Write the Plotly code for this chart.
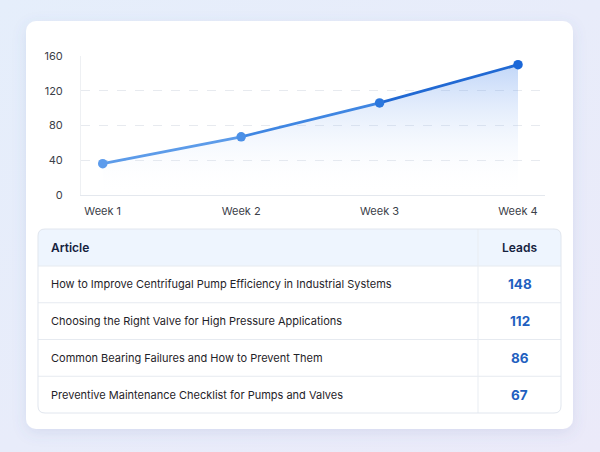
import base64
import plotly.graph_objects as go

# ---- data ----
weeks = ["Week 1", "Week 2", "Week 3", "Week 4"]
weekly_leads = [36, 67, 106, 150]
y_ticks = [0, 40, 80, 120, 160]

articles = [
    "How to Improve Centrifugal Pump Efficiency in Industrial Systems",
    "Choosing the Right Valve for High Pressure Applications",
    "Common Bearing Failures and How to Prevent Them",
    "Preventive Maintenance Checklist for Pumps and Valves",
]
article_leads = [148, 112, 86, 67]
table_headers = ["Article", "Leads"]

# ---- styling ----
W, H = 600, 452
FONT = "Inter, Roboto, 'Noto Sans', sans-serif"
seg_colors = ["#5c9be9", "#3f86e2", "#2169d3"]
marker_colors = ["#5d9cec", "#4b90e7", "#2b77dd", "#1b67d8"]


def px(x):
    return x / W


def py(y):
    return 1 - y / H


def rrect(x0, y0, x1, y1, r, tl=True, tr=True, br=True, bl=True):
    """Rounded rectangle path in paper coordinates from pixel coordinates."""
    def P(x, y):
        return f"{px(x):.5f},{py(y):.5f}"
    rt, rr_, rb, rl = (r if tl else 0), (r if tr else 0), (r if br else 0), (r if bl else 0)
    d = f"M {P(x0 + rt, y0)} L {P(x1 - rr_, y0)} "
    d += f"Q {P(x1, y0)} {P(x1, y0 + rr_)} " if rr_ else ""
    d += f"L {P(x1, y1 - rb)} "
    d += f"Q {P(x1, y1)} {P(x1 - rb, y1)} " if rb else ""
    d += f"L {P(x0 + rl, y1)} "
    d += f"Q {P(x0, y1)} {P(x0, y1 - rl)} " if rl else ""
    d += f"L {P(x0, y0 + rt)} "
    d += f"Q {P(x0, y0)} {P(x0 + rt, y0)} " if rt else ""
    return d + "Z"


bg_svg = f"""<svg xmlns='http://www.w3.org/2000/svg' width='{W}' height='{H}' viewBox='0 0 {W} {H}' preserveAspectRatio='none'>
<defs>
<linearGradient id='bg' x1='0' y1='0' x2='1' y2='1'>
<stop offset='0' stop-color='#e5eefb'/><stop offset='1' stop-color='#ebeaf9'/>
</linearGradient>
<filter id='sh' x='-10%' y='-10%' width='120%' height='130%'>
<feDropShadow dx='0' dy='4' stdDeviation='7' flood-color='#5a6fa8' flood-opacity='0.13'/>
</filter>
</defs>
<rect width='{W}' height='{H}' fill='url(#bg)'/>
<rect x='26' y='21' width='547' height='408' rx='10' ry='10' fill='#ffffff' filter='url(#sh)'/>
</svg>"""
bg_uri = "data:image/svg+xml;base64," + base64.b64encode(bg_svg.encode()).decode()

fig = go.Figure()

# area fill under the line
fig.add_trace(go.Scatter(
    x=weeks, y=weekly_leads, mode="none", fill="tozeroy",
    fillgradient=dict(type="vertical", start=0, stop=150,
                      colorscale=[[0, "rgba(255,255,255,0)"], [1, "rgba(50,120,232,0.30)"]]),
    hoverinfo="skip", showlegend=False,
))

# line segments (gradient look)
for i in range(len(weeks) - 1):
    fig.add_trace(go.Scatter(
        x=weeks[i:i + 2], y=weekly_leads[i:i + 2], mode="lines",
        line=dict(color=seg_colors[i], width=2.8),
        hoverinfo="skip", showlegend=False,
    ))

# markers
fig.add_trace(go.Scatter(
    x=weeks, y=weekly_leads, mode="markers",
    marker=dict(size=9.5, color=marker_colors),
    hoverinfo="skip", showlegend=False,
))

# ---- table (shapes + annotations) ----
T_L, T_R, T_T, T_B = 38, 561, 229, 413
COL_X = 478
HEAD_H = 37
row_h = (T_B - T_T - HEAD_H) / len(articles)
shapes = []
annotations = []

# header background
shapes.append(dict(type="path", path=rrect(T_L, T_T, T_R, T_T + HEAD_H, 7, br=False, bl=False),
                   xref="paper", yref="paper", fillcolor="#eef5fe", line=dict(width=0), layer="above"))
# row separators
for i in range(len(articles)):
    yl = T_T + HEAD_H + i * row_h
    shapes.append(dict(type="line", x0=px(T_L), x1=px(T_R), y0=py(yl), y1=py(yl),
                       xref="paper", yref="paper", line=dict(color="#e6eaf0", width=1), layer="above"))
# column divider
shapes.append(dict(type="line", x0=px(COL_X), x1=px(COL_X), y0=py(T_T), y1=py(T_B),
                   xref="paper", yref="paper", line=dict(color="#e9edf2", width=1), layer="above"))
# outer border
shapes.append(dict(type="path", path=rrect(T_L, T_T, T_R, T_B, 7),
                   xref="paper", yref="paper", fillcolor="rgba(0,0,0,0)",
                   line=dict(color="#e1e6ee", width=1), layer="above"))

num_cx = (COL_X + T_R) / 2
head_font = dict(family=FONT, size=12, color="#15223e", weight=600)
annotations.append(dict(text=table_headers[0], x=px(48.5), y=py(T_T + HEAD_H / 2),
                        xref="paper", yref="paper", xanchor="left", yanchor="middle", showarrow=False,
                        font=head_font))
annotations.append(dict(text=table_headers[1], x=px(num_cx), y=py(T_T + HEAD_H / 2),
                        xref="paper", yref="paper", xanchor="center", yanchor="middle", showarrow=False,
                        font=head_font))
for i, (a, v) in enumerate(zip(articles, article_leads)):
    cy = T_T + HEAD_H + (i + 0.5) * row_h
    annotations.append(dict(text=a, x=px(48.5), y=py(cy), xref="paper", yref="paper",
                            xanchor="left", yanchor="middle", showarrow=False,
                            font=dict(family=FONT, size=11, color="#1f2329")))
    annotations.append(dict(text=str(v), x=px(num_cx), y=py(cy), xref="paper", yref="paper",
                            xanchor="center", yanchor="middle", showarrow=False,
                            font=dict(family=FONT, size=13.5, color="#1f5fbf", weight=700)))

fig.update_layout(
    width=W, height=H,
    margin=dict(l=0, r=0, t=0, b=0, autoexpand=False),
    paper_bgcolor="#e8eefa",
    plot_bgcolor="rgba(0,0,0,0)",
    font=dict(family=FONT, size=11, color="#3b4048"),
    images=[dict(source=bg_uri, xref="paper", yref="paper", x=0, y=1,
                 sizex=1, sizey=1, xanchor="left", yanchor="top",
                 sizing="stretch", layer="below")],
    shapes=shapes,
    annotations=annotations,
    xaxis=dict(
        type="category", domain=[px(81), px(545)], range=[-0.157, 3.195],
        showgrid=False, showline=True, linecolor="#e4e8ee", linewidth=1,
        ticks="", tickfont=dict(size=11, color="#3b4048"), ticklabelstandoff=6,
        fixedrange=True, automargin=False,
    ),
    yaxis=dict(
        domain=[py(195), py(56)], range=[0, 160], tickvals=y_ticks,
        showgrid=True, gridcolor="#e7eaef", griddash="dash", gridwidth=1,
        showline=True, linecolor="#eef0f3", zeroline=False,
        ticks="", tickfont=dict(size=11, color="#3b4048"), ticklabelstandoff=15,
        fixedrange=True, automargin=False,
    ),
    showlegend=False,
)

fig.write_html(
    "out.html",
    config={"displayModeBar": False},
    post_script="document.body.style.margin='0';document.body.style.background='#e8eefa';",
)
